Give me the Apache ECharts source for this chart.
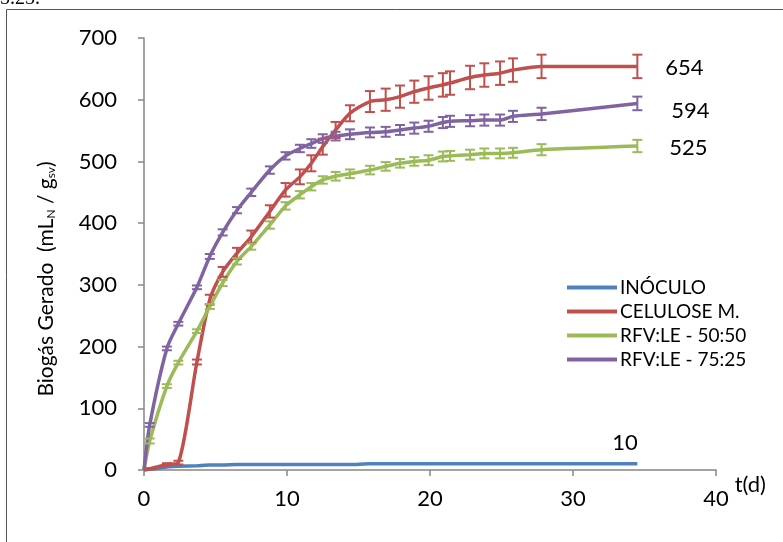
<!DOCTYPE html>
<html>
<head>
<meta charset="utf-8">
<script src="https://cdn.jsdelivr.net/npm/echarts@6/dist/echarts.min.js"></script>
<style>
  html, body { margin: 0; padding: 0; background: #fff; }
  #chart { width: 783px; height: 542px; }
</style>
</head>
<body>
<div id="chart"></div>
<script>
// days
const days = [0, 0.4, 1.6, 2.4, 3.7, 4.6, 5.5, 6.5, 7.5, 8.8, 9.9, 10.9, 11.7, 12.5, 13.4, 14.4, 15.8, 16.9, 17.9, 18.9, 19.9, 20.9, 21.4, 22.8, 23.8, 24.9, 25.8, 27.8, 34.5];

const inoculo = [0, 1, 5, 6, 7, 8, 8, 9, 9, 9, 9, 9, 9, 9, 9, 9, 10, 10, 10, 10, 10, 10, 10, 10, 10, 10, 10, 10, 10];
const celulose = [0, 2, 9, 12, 175, 276, 321, 351, 378, 419, 454, 475, 497, 524, 551, 578, 597, 600, 605, 613, 619, 624, 627, 636, 640, 643, 648, 654, 654];
const rfv5050 = [0, 47, 136, 174, 225, 265, 303, 338, 362, 397, 428, 446, 459, 470, 476, 480, 486, 492, 497, 500, 502, 508, 509, 511, 513, 513, 514, 519, 525];
const rfv7525 = [0, 73, 197, 237, 296, 346, 385, 421, 450, 486, 509, 521, 529, 537, 541, 544, 547, 548, 551, 554, 557, 563, 565, 566, 567, 567, 573, 577, 594];

// +/- error
const celuloseErr = [0, 1, 2, 3, 4, 8, 8, 9, 10, 10, 11, 12, 13, 13, 13, 13, 17, 18, 18, 18, 19, 19, 19, 19, 19, 19, 19, 19, 19];
const rfv5050Err = [0, 4, 3, 3, 3, 4, 5, 5, 5, 6, 6, 6, 6, 6, 7, 7, 7, 7, 7, 7, 8, 8, 8, 8, 8, 8, 8, 9, 10];
const rfv7525Err = [0, 3, 3, 3, 3, 4, 5, 5, 6, 6, 6, 6, 7, 7, 7, 8, 8, 8, 8, 9, 9, 9, 9, 9, 9, 9, 9, 10, 11];

const names = ["INÓCULO", "CELULOSE M.", "RFV:LE - 50:50", "RFV:LE - 75:25"];
const colors = ["#4F81BD", "#C0504D", "#9BBB59", "#8064A2"];
const xTicks = [0, 10, 20, 30, 40];
const yTicks = [0, 100, 200, 300, 400, 500, 600, 700];

const font = "Lato, 'Open Sans', sans-serif";
const chart = echarts.init(document.getElementById("chart"));

const pairs = (ys) => days.map((d, i) => [d, ys[i]]);

function lineSeries(name, ys, color, labelOffset) {
  return {
    name: name,
    type: "line",
    data: pairs(ys),
    smooth: 0.25,
    showSymbol: false,
    symbol: "none",
    lineStyle: { color: color, width: 3.5 },
    itemStyle: { color: color },
    z: 2,
    endLabel: {
      show: true,
      distance: 0,
      offset: labelOffset,
      fontFamily: font,
      fontSize: 22,
      color: "#000",
      formatter: (p) => String(p.value[1]),
    },
  };
}

function errSeries(name, ys, errs, color) {
  return {
    name: name + " err",
    type: "custom",
    z: 3,
    silent: true,
    data: days.map((d, i) => [d, ys[i], errs[i]]).filter((r) => r[2] > 0),
    renderItem: function (params, api) {
      const x = api.value(0), y = api.value(1), e = api.value(2);
      const hi = api.coord([x, y + e]);
      const lo = api.coord([x, y - e]);
      const w = 5;
      const st = { stroke: color, lineWidth: 2 };
      return {
        type: "group",
        children: [
          { type: "line", shape: { x1: hi[0], y1: hi[1], x2: lo[0], y2: lo[1] }, style: st },
          { type: "line", shape: { x1: hi[0] - w, y1: hi[1], x2: hi[0] + w, y2: hi[1] }, style: st },
          { type: "line", shape: { x1: lo[0] - w, y1: lo[1], x2: lo[0] + w, y2: lo[1] }, style: st },
        ],
      };
    },
  };
}

const option = {
  animation: false,
  backgroundColor: "#fff",
  grid: { left: 144, right: 67, top: 38, bottom: 72, containLabel: false },
  legend: {
    data: names,
    orient: "vertical",
    left: 562,
    top: 273,
    itemWidth: 50,
    itemHeight: 4,
    itemGap: 5,
    icon: "rect",
    textStyle: { fontFamily: font, fontSize: 19, color: "#000", padding: [0, 0, 0, -2] },
  },
  xAxis: {
    type: "value",
    min: xTicks[0],
    max: xTicks[xTicks.length - 1],
    interval: 10,
    name: "t(d)",
    nameLocation: "end",
    nameGap: 12,
    nameTextStyle: { fontFamily: font, fontSize: 22, color: "#000", verticalAlign: "top", padding: [4, 0, 0, 0] },
    axisLine: { lineStyle: { color: "#868686", width: 1.5 } },
    axisTick: { show: true, inside: false, length: 6, lineStyle: { color: "#868686", width: 1.5 } },
    axisLabel: { fontFamily: font, fontSize: 22, color: "#000", margin: 18 },
    splitLine: { show: false },
  },
  yAxis: {
    type: "value",
    min: yTicks[0],
    max: yTicks[yTicks.length - 1],
    interval: 100,
    axisLine: { show: true, lineStyle: { color: "#868686", width: 1.5 } },
    axisTick: { show: true, inside: false, length: 6, lineStyle: { color: "#868686", width: 1.5 } },
    axisLabel: { fontFamily: font, fontSize: 22, color: "#000", margin: 27 },
    splitLine: { show: false },
  },
  graphic: [
    {
      type: "rect",
      shape: { x: 6.5, y: 9.5, width: 900, height: 700 },
      style: { fill: null, stroke: "#555", lineWidth: 1 },
      silent: true,
    },
    {
      type: "text",
      x: 0,
      y: -11,
      style: { text: "5.25.", font: "20px 'Liberation Serif', serif", fill: "#000", verticalAlign: "top" },
      silent: true,
    },
    {
      type: "text",
      x: 46,
      y: 279,
      rotation: Math.PI / 2,
      silent: true,
      style: {
        text: "{a|Biogás Gerado  (mL}{s|N}{a| / g}{s|sv}{a|)}",
        align: "center",
        verticalAlign: "middle",
        rich: {
          a: { fontFamily: font, fontSize: 21, fill: "#000" },
          s: { fontFamily: font, fontSize: 12, fill: "#000", padding: [10, 0, 0, 0] },
        },
      },
    },
  ],
  series: [
    lineSeries(names[0], inoculo, colors[0], [-25, -21]),
    lineSeries(names[1], celulose, colors[1], [28, 2]),
    lineSeries(names[2], rfv5050, colors[2], [32, 2]),
    lineSeries(names[3], rfv7525, colors[3], [34, 7]),
    errSeries(names[1], celulose, celuloseErr, colors[1]),
    errSeries(names[2], rfv5050, rfv5050Err, colors[2]),
    errSeries(names[3], rfv7525, rfv7525Err, colors[3]),
  ],
};

chart.setOption(option);
</script>
</body>
</html>
